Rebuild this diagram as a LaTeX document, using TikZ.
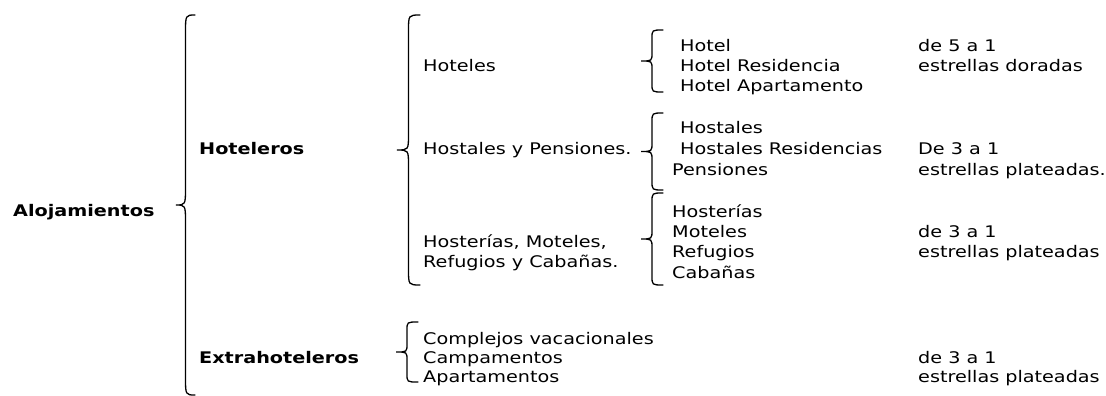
\documentclass[tikz,border=0pt]{standalone}
\usepackage{fontspec}
\setmainfont{DejaVu Sans}[FakeStretch=1.2]
\usepackage{tikz}
\usetikzlibrary{calc}

% left curly brace: #1 x of the ends, #2 top, #3 bottom, #4 half width, #5 curl
\newcommand{\curlybr}[5]{%
  \draw[brc] (#1,#2) .. controls ({#1-#4},#2) .. ({#1-#4},{#2+#5})
    -- ({#1-#4},{(#2+#3)/2-#5}) .. controls ({#1-#4},{(#2+#3)/2}) .. ({#1-2*#4},{(#2+#3)/2})
    .. controls ({#1-#4},{(#2+#3)/2}) .. ({#1-#4},{(#2+#3)/2+#5})
    -- ({#1-#4},{#3-#5}) .. controls ({#1-#4},#3) .. (#1,#3);}

\begin{document}
\begin{tikzpicture}[x=1pt, y=-1pt,
  txt/.style={anchor=west, inner sep=0pt, text height=11.7pt, text depth=0pt,
    font=\fontsize{16}{20}\selectfont},
  head/.style={txt, font=\fontsize{16}{20}\selectfont\bfseries},
  brc/.style={line width=1.3pt, line cap=round}]
  \useasboundingbox (0,0) rectangle (1106,396);

  % First level
  \node[head] (aloj) at (13, 211) {Alojamientos};
  \curlybr{195}{15}{395}{9.5}{18}
  \node[head] (hotel) at (199, 149) {Hoteleros};
  \node[head] (extra) at (199, 358) {Extrahoteleros};

  % Hoteleros
  \curlybr{420}{15}{285}{11.5}{16}
  \node[txt] (hoteles) at (423, 66) {Hoteles};
  \node[txt] (hostpen) at (423, 149) {Hostales y Pensiones.};
  \node[txt] (hostmot) at (423, 242) {Hosterías, Moteles,};
  \node[txt] (refcab) at (423, 262) {Refugios y Cabañas.};

  % Hoteles
  \curlybr{663}{30}{92}{11}{8}
  \node[txt] (h1) at (680, 46) {Hotel};
  \node[txt] (h2) at (680, 66) {Hotel Residencia};
  \node[txt] (h3) at (680, 86) {Hotel Apartamento};
  \node[txt] (cat1a) at (918, 46) {de 5 a 1};
  \node[txt] (cat1b) at (918, 66) {estrellas doradas};

  % Hostales y Pensiones
  \curlybr{663}{113}{190}{11}{9}
  \node[txt] (p1) at (680, 128) {Hostales};
  \node[txt] (p2) at (680, 149) {Hostales Residencias};
  \node[txt] (p3) at (672, 170) {Pensiones};
  \node[txt] (cat2a) at (918, 149) {De 3 a 1};
  \node[txt] (cat2b) at (918, 170) {estrellas plateadas.};

  % Hosterias, Moteles, Refugios y Cabanas
  \curlybr{663}{193}{285}{11}{9}
  \node[txt] (m1) at (672, 212) {Hosterías};
  \node[txt] (m2) at (672, 232) {Moteles};
  \node[txt] (m3) at (672, 252) {Refugios};
  \node[txt] (m4) at (672, 273) {Cabañas};
  \node[txt] (cat3a) at (918, 232) {de 3 a 1};
  \node[txt] (cat3b) at (918, 252) {estrellas plateadas};

  % Extrahoteleros
  \curlybr{418}{322}{382}{11}{8}
  \node[txt] (e1) at (423, 339) {Complejos vacacionales};
  \node[txt] (e2) at (423, 358) {Campamentos};
  \node[txt] (e3) at (423, 377) {Apartamentos};
  \node[txt] (cat4a) at (918, 358) {de 3 a 1};
  \node[txt] (cat4b) at (918, 377) {estrellas plateadas};
\end{tikzpicture}
\end{document}
